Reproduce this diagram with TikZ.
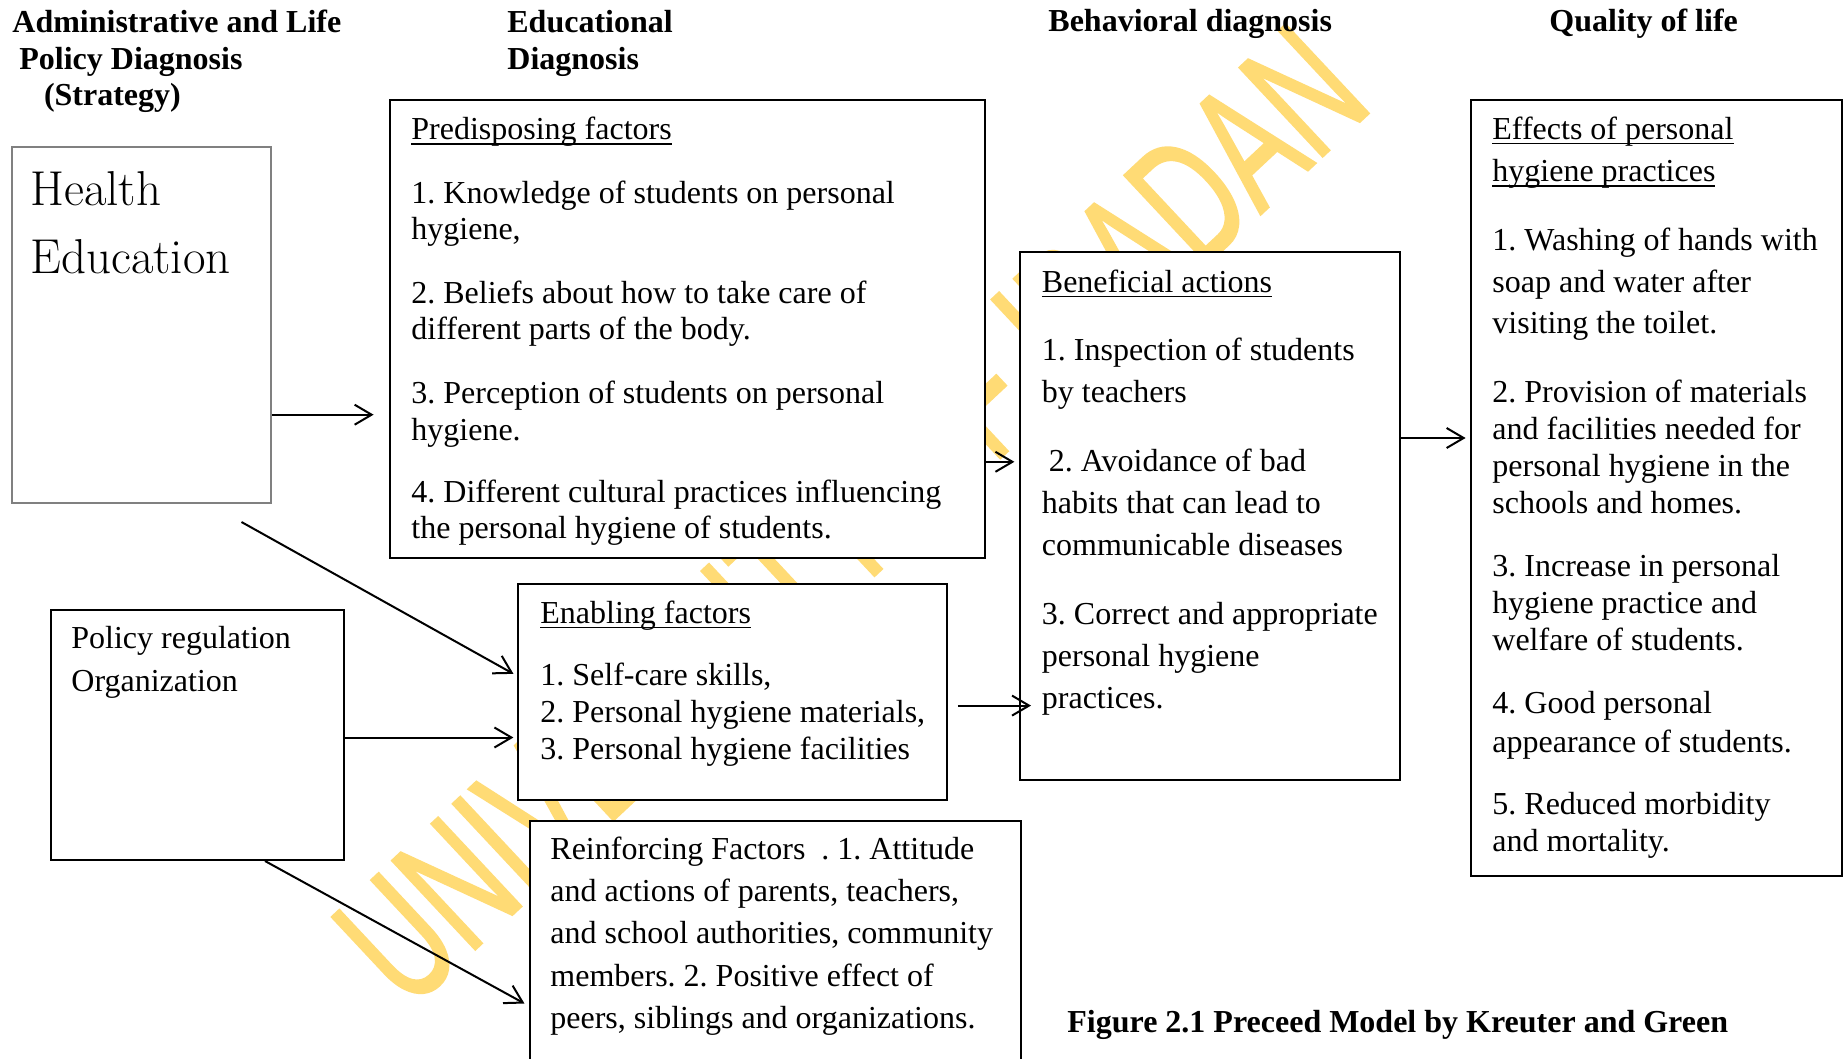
\documentclass[tikz,border=0pt]{standalone}
\usepackage{fontspec}
\usepackage{graphicx}
\newfontfamily\tnr{Liberation Serif}
\newfontfamily\wmfont{Liberation Sans}[FakeBold=1.6]
\usetikzlibrary{arrows.meta,fit}
\definecolor{wmyellow}{RGB}{255,219,117}
\definecolor{frameg}{RGB}{128,128,128}
\frenchspacing
% Word-style underline that runs through the descenders
\newcommand\undl[1]{\setbox0=\hbox{#1}\rlap{\rule[-2.5pt]{\wd0}{0.9pt}}\box0}
% first-line struts so that a block's top edge sits a fixed distance above its first baseline
\newcommand\hdstrut{\rule{0pt}{14pt}}
\newcommand\hestrut{\rule{0pt}{20pt}}
\begin{document}
\begin{tikzpicture}[x=0.5pt,y=-0.5pt,
  box/.style={draw=black, line width=1pt, fill=white, inner sep=0pt},
  arr/.style={draw=black, line width=1pt, -{Straight Barb[length=8.5pt,width=10pt]}},
  txt/.style={anchor=north west, inner sep=0pt, align=left},
  body/.style={txt, font=\tnr\fontsize{16}{#1}\selectfont},
  hdr/.style={inner sep=0pt, align=left, font=\tnr\bfseries\fontsize{16}{18.35}\selectfont},
  wmark/.style={text=wmyellow, inner sep=0pt, font=\wmfont\fontsize{88}{96}\selectfont}]

\useasboundingbox (0,0) rectangle (1847,1059);
\clip (0,0) rectangle (1847,1059);
\fill[white] (0,0) rectangle (1847,1059);

% watermark behind everything
\node[wmark, rotate=43.1, anchor=base west] (wm) at (408,1012)
  {\scalebox{0.645}[1]{UNIVERSITY OF IBADAN}};

% column headings
\node[hdr, anchor=north west] (hadmin) at (12,4)
  {\hdstrut Administrative and Life\\\hspace*{3.5pt}Policy Diagnosis\\\hspace*{15.8pt}(Strategy)};
\node[hdr, anchor=north west] (hedu) at (507,4) {\hdstrut Educational\\Diagnosis};
\node[hdr, anchor=base west] (hbeh) at (1048,32) {Behavioral diagnosis};
\node[hdr, anchor=base west] (hqol) at (1549,32) {Quality of life};

% Health education
\node[box, draw=frameg, line width=1.2pt, fit={(12,147) (271,503)}] (he) {};
\node[txt, font=\rmfamily\fontsize{24.5}{34}\selectfont] (het) at (30,165)
  {\hestrut Health\\Education};

% Policy regulation
\node[box, fit={(51,610) (344,860)}] (po) {};
\node[body=21.75] (pot) at (71,620) {\hdstrut Policy regulation\\Organization};

% Predisposing factors
\node[box, fit={(390,100) (985,558)}] (pre) {};
\node[body=18.25] (pret) at (411,111.3) {\hdstrut\undl{Predisposing factors}\\[13.5pt]
1. Knowledge of students on personal\\
hygiene,\\[13.6pt]
2. Beliefs about how to take care of\\
different parts of the body.\\[13.6pt]
3. Perception of students on personal\\
hygiene.\\[12.8pt]
4. Different cultural practices influencing\\
the personal hygiene of students.};

% Enabling factors
\node[box, line width=1.4pt, fit={(518,584) (947,800)}] (en) {};
\node[body=18.5] (ent) at (540,595) {\hdstrut\undl{Enabling factors}\\[12.5pt]
1. Self-care skills,\\
2. Personal hygiene materials,\\
3. Personal hygiene facilities};

% Reinforcing factors
\node[box, fit={(530,821) (1021,1085)}] (re) {};
\node[body=21.15] (ret) at (550,830.8) {\hdstrut Reinforcing Factors\ \ . 1. Attitude\\
and actions of parents, teachers,\\
and school authorities, community\\
members. 2. Positive effect of\\
peers, siblings and organizations.};

% Beneficial actions
\node[box, fit={(1020,252) (1400,780)}] (be) {};
\node[body=21] (bet) at (1041.5,264) {\hdstrut\undl{Beneficial actions}\\[13.1pt]
1. Inspection of students\\
by teachers\\[13.3pt]
\hspace*{3.5pt}2. Avoidance of bad\\
habits that can lead to\\
communicable diseases\\[13.5pt]
3. Correct and appropriate\\
personal hygiene\\
practices.};

% Effects of personal hygiene practices
\node[box, fit={(1471,100) (1842,876)}] (ef) {};
\node[body=18.5] (eft) at (1492,111) {\hdstrut\undl{Effects of personal}\\[2.7pt]
\undl{hygiene practices}\\[15.6pt]
1. Washing of hands with\\[2.7pt]
soap and water after\\[2.2pt]
visiting the toilet.\\[15.7pt]
2. Provision of materials\\
and facilities needed for\\
personal hygiene in the\\
schools and homes.\\[13.3pt]
3. Increase in personal\\
hygiene practice and\\
welfare of students.\\[12.8pt]
4. Good personal\\[0.8pt]
appearance of students.\\[12.6pt]
5. Reduced morbidity\\
and mortality.};

% caption
\node[hdr, anchor=base west] (cap) at (1067,1032)
  {Figure 2.1 Preceed Model by Kreuter and Green};

% connector levels
\coordinate (l1) at (0,414.7);
\coordinate (l2) at (0,675.6);
\coordinate (l3) at (0,737.5);
\coordinate (l4) at (0,1006);
\coordinate (l5) at (0,461.8);
\coordinate (l6) at (0,705.6);
\coordinate (l7) at (0,438);
\coordinate (hefoot) at (241.5,522);
\coordinate (pofoot) at (265,0);

\draw[arr, shorten >=7.7pt] (he.east |- l1) -- (pre.west |- l1);
\draw[arr, shorten >=1.8pt] (hefoot) -- (en.west |- l2);
\draw[arr, shorten >=1.6pt] (po.east |- l3) -- (en.west |- l3);
\draw[arr, shorten >=2.6pt] (pofoot |- po.south) -- (re.west |- l4);
\draw[arr, shorten >=2.3pt] (pre.east |- l5) -- (be.west |- l5);
\draw[arr, shorten <=4.75pt, shorten >=-6pt] (en.east |- l6) -- (be.west |- l6);
\draw[arr, shorten >=2.2pt] (be.east |- l7) -- (ef.west |- l7);
\end{tikzpicture}
\end{document}
